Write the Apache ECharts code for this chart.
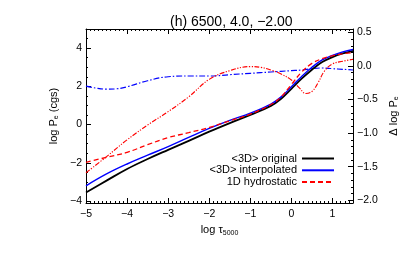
<!DOCTYPE html>
<html><head><meta charset="utf-8">
<script src="https://cdn.jsdelivr.net/npm/echarts@6/dist/echarts.min.js"></script>
<style>html,body{margin:0;padding:0;background:#fff}#c{width:415px;height:253px}</style>
</head><body><div id="c"></div>
<script>
// log tau_5000 sample points
const tau = [-5, -4.5, -4, -3.5, -3, -2.5, -2, -1.5, -1, -0.5, -0.25, 0, 0.25, 0.5, 0.75, 1, 1.25, 1.5];
const orig3D = [-3.55, -2.93, -2.32, -1.8, -1.32, -0.85, -0.37, 0.08, 0.51, 0.98, 1.35, 1.87, 2.4, 2.87, 3.27, 3.53, 3.72, 3.86];
const interp3D = [-3.2, -2.58, -2.06, -1.6, -1.15, -0.67, -0.2, 0.22, 0.6, 1.07, 1.45, 1.98, 2.52, 3.0, 3.38, 3.62, 3.8, 3.93];
const hydro1D = [-1.97, -1.71, -1.45, -1.05, -0.68, -0.42, -0.15, 0.2, 0.55, 1.05, 1.45, 2.1, 2.75, 3.2, 3.45, 3.6, 3.7, 3.77];
const tauDI = [-5, -4.75, -4.5, -4.25, -4, -3.5, -3, -2.5, -2, -1.5, -1, -0.5, 0, 0.25, 0.5, 0.75, 1, 1.25, 1.5];
const deltaInterp = [-0.3, -0.33, -0.345, -0.34, -0.31, -0.22, -0.16, -0.15, -0.15, -0.13, -0.11, -0.09, -0.07, -0.06, -0.04, -0.03, -0.04, -0.05, -0.06];
const tauDH = [-5, -4.5, -4, -3.5, -3, -2.5, -2, -1.5, -1, -0.75, -0.5, -0.25, 0, 0.2, 0.35, 0.5, 0.65, 0.8, 1, 1.25, 1.5];
const deltaHydro = [-1.59, -1.35, -1.1, -0.88, -0.68, -0.46, -0.2, -0.07, -0.01, -0.02, -0.06, -0.12, -0.21, -0.33, -0.41, -0.38, -0.25, -0.08, 0.03, 0.07, 0.1];
const leftTicks = [-4, -2, 0, 2, 4];
const leftMinor = [-4, -3.5, -3, -2.5, -2, -1.5, -1, -0.5, 0, 0.5, 1, 1.5, 2, 2.5, 3, 3.5, 4, 4.5, 5];
const rightTicks = [-2, -1.5, -1, -0.5, 0, 0.5];
const rightMinor = [];
for (let i = -20; i <= 5; i++) rightMinor.push(i / 10);

const pair = (xs, ys) => xs.map((x, i) => [x, ys[i]]);
const fmt = v => (v < 0 ? '\u2212' + (-v) : '' + v);
const fmt1 = v => (v < 0 ? '\u2212' + (-v).toFixed(1) : v.toFixed(1));
const FF = 'Liberation Sans, Arial, sans-serif';
const lblStyle = {color: '#000', fontSize: 10.5, fontFamily: FF};
const axLine = {show: true, onZero: false, lineStyle: {color: '#000', width: 1}};

const chart = echarts.init(document.getElementById('c'), null, {renderer: 'canvas'});
const legendNames = ['<3D> original', '<3D> interpolated', '1D hydrostatic'];
chart.setOption({
  animation: false,
  title: {text: '(h) 6500, 4.0, \u22122.00', left: 165, top: 10,
    textStyle: {fontSize: 14, fontWeight: 'normal', color: '#000', fontFamily: FF}},
  legend: legendNames.map((n, i) => ({
    data: [n], right: 80, top: 153 + i * 11.8, align: 'right', itemWidth: 32, itemHeight: 10,
    itemStyle: {opacity: 0}, padding: 0, itemGap: 4, textStyle: {fontSize: 11, color: '#000', fontFamily: FF}
  })),
  grid: {left: 86, right: 62, top: 29, bottom: 50, containLabel: false},
  xAxis: [
    {type: 'value', position: 'bottom', min: -5, max: 1.5, interval: 1,
     axisLine: axLine, splitLine: {show: false},
     axisTick: {inside: true, length: 5, lineStyle: {color: '#000'}},
     minorTick: {show: true, splitNumber: 10, length: 2, lineStyle: {color: '#000'}},
     axisLabel: Object.assign({formatter: fmt, margin: 6, showMaxLabel: false}, lblStyle),
     name: 'log \u03c4{s|5000}', nameLocation: 'middle', nameGap: 19,
     nameTextStyle: {color: '#000', fontSize: 11, fontFamily: FF, verticalAlign: 'top',
       rich: {s: {fontSize: 7, verticalAlign: 'bottom', padding: [5, 0, 0, 0], fontFamily: FF, color: '#000'}}}},
    {type: 'value', position: 'top', min: -5, max: 1.5, interval: 1,
     axisLine: axLine, splitLine: {show: false},
     axisTick: {inside: true, length: 5, lineStyle: {color: '#000'}},
     minorTick: {show: true, splitNumber: 10, length: 2, lineStyle: {color: '#000'}},
     axisLabel: {show: false}}
  ],
  yAxis: [
    {type: 'value', position: 'left', min: -4.1, max: 5,
     axisLine: axLine, splitLine: {show: false},
     axisTick: {inside: true, length: 5, customValues: leftTicks, lineStyle: {color: '#000'}},
     axisLabel: Object.assign({formatter: fmt, margin: 4, customValues: leftTicks}, lblStyle),
     name: 'log P{s|e} (cgs)', nameLocation: 'middle', nameGap: 21, nameRotate: 90,
     nameTextStyle: {color: '#000', fontSize: 11, fontFamily: FF,
       rich: {s: {fontSize: 7, verticalAlign: 'bottom', padding: [4, 0, 0, 0], fontFamily: FF, color: '#000'}}}},
    {type: 'value', position: 'right', min: -2.04, max: 0.55,
     axisLine: axLine, splitLine: {show: false},
     axisTick: {inside: true, length: 5, customValues: rightTicks, lineStyle: {color: '#000'}},
     axisLabel: Object.assign({formatter: fmt1, margin: 4, customValues: rightTicks}, lblStyle),
     name: '\u0394 log P{s|e}', nameLocation: 'middle', nameGap: 29, nameRotate: 90,
     nameTextStyle: {color: '#000', fontSize: 11, fontFamily: FF,
       rich: {s: {fontSize: 7, verticalAlign: 'bottom', padding: [4, 0, 0, 0], fontFamily: FF, color: '#000'}}}},
    {type: 'value', position: 'left', min: -4.1, max: 5,
     axisLine: {show: false, onZero: false}, splitLine: {show: false}, axisLabel: {show: false},
     axisTick: {inside: true, length: 2, customValues: leftMinor, lineStyle: {color: '#000'}}},
    {type: 'value', position: 'right', min: -2.04, max: 0.55,
     axisLine: {show: false, onZero: false}, splitLine: {show: false}, axisLabel: {show: false},
     axisTick: {inside: true, length: 2, customValues: rightMinor, lineStyle: {color: '#000'}}}
  ],
  series: [
    {name: 'delta interp', type: 'line', yAxisIndex: 1, data: pair(tauDI, deltaInterp), smooth: 0.4, symbol: 'none',
     lineStyle: {color: '#0000ff', width: 1.15, type: [6, 2, 1.5, 2]}},
    {name: 'delta hydro', type: 'line', yAxisIndex: 1, data: pair(tauDH, deltaHydro), smooth: 0.4, symbol: 'none',
     lineStyle: {color: '#ff0000', width: 1.15, type: [5, 1.5, 1.2, 1.5, 1.2, 1.5]}},
    {name: '<3D> original', type: 'line', yAxisIndex: 0, data: pair(tau, orig3D), smooth: 0.4, symbol: 'none',
     itemStyle: {color: '#000'}, lineStyle: {color: '#000', width: 1.8}},
    {name: '<3D> interpolated', type: 'line', yAxisIndex: 0, data: pair(tau, interp3D), smooth: 0.4, symbol: 'none',
     itemStyle: {color: '#0000ff'}, lineStyle: {color: '#0000ff', width: 1.4}},
    {name: '1D hydrostatic', type: 'line', yAxisIndex: 0, data: pair(tau, hydro1D), smooth: 0.4, symbol: 'none',
     itemStyle: {color: '#ff0000'}, lineStyle: {color: '#ff0000', width: 1.3, type: [5, 3]}}
  ]
});
</script></body></html>
